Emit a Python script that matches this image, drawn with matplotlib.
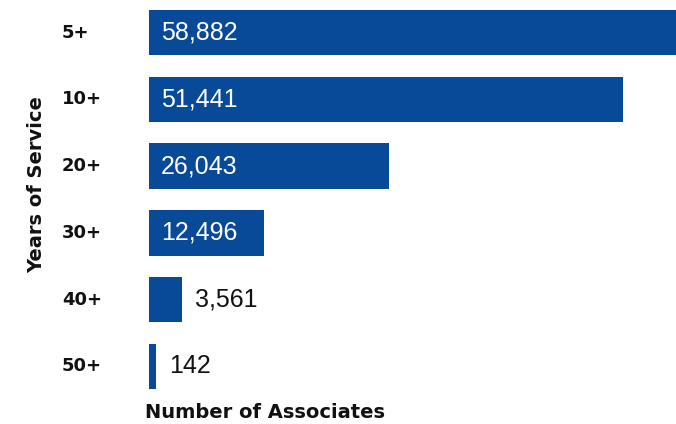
import matplotlib
matplotlib.use("Agg")
import matplotlib.pyplot as plt
import matplotlib.transforms as mtransforms
import numpy as np

categories = ["5+", "10+", "20+", "30+", "40+", "50+"]
values = [58882, 51441, 26043, 12496, 3561, 142]
axis_title_y = "Years of Service"
axis_title_x = "Number of Associates"

BAR_COLOR = "#084a98"
FONT = "Liberation Sans"
BOLD_FONT = "DejaVu Sans"

W, H = 676, 424
fig = plt.figure(figsize=(W / 100, H / 100), dpi=100)
ax = fig.add_axes([149 / W, 24 / H, 527 / W, 400 / H])

pos = np.arange(len(categories))
disp = np.maximum(values, 750)  # minimum visible bar width
ax.barh(pos, disp, height=0.68, color=BAR_COLOR, clip_on=True)
ax.set_xlim(0, 57195)
ax.set_ylim(5.504, -0.489)
ax.axis("off")

# value labels
px_per_unit = 527 / 57195
for p, v, d in zip(pos, values, disp):
    txt = f"{v:,}"
    if d * px_per_unit > 100:
        ax.annotate(txt, (0, p), xytext=(12 * 0.72, 0), textcoords="offset points",
                    ha="left", va="center", color="white", fontsize=18,
                    fontfamily=FONT, fontweight="normal")
    else:
        ax.annotate(txt, (d, p), xytext=(13 * 0.72, 0), textcoords="offset points",
                    ha="left", va="center", color="#111111", fontsize=18,
                    fontfamily=FONT, fontweight="normal")

# category labels (left aligned)
trans = mtransforms.blended_transform_factory(fig.transFigure, ax.transData)
for p, c in zip(pos, categories):
    fig.text(62 / W, p, c, transform=trans, ha="left", va="center",
             fontsize=13, fontweight="heavy", fontfamily=BOLD_FONT, color="#111111")

fig.text(37 / W, 1 - 185 / H, axis_title_y, rotation=90, ha="center", va="center",
         fontsize=14, fontweight="heavy", fontfamily=BOLD_FONT, color="#111111")
fig.text(145 / W, 1 - 412 / H, axis_title_x, ha="left", va="center",
         fontsize=14, fontweight="heavy", fontfamily=BOLD_FONT, color="#111111")

fig.savefig("out.png", dpi=100)
